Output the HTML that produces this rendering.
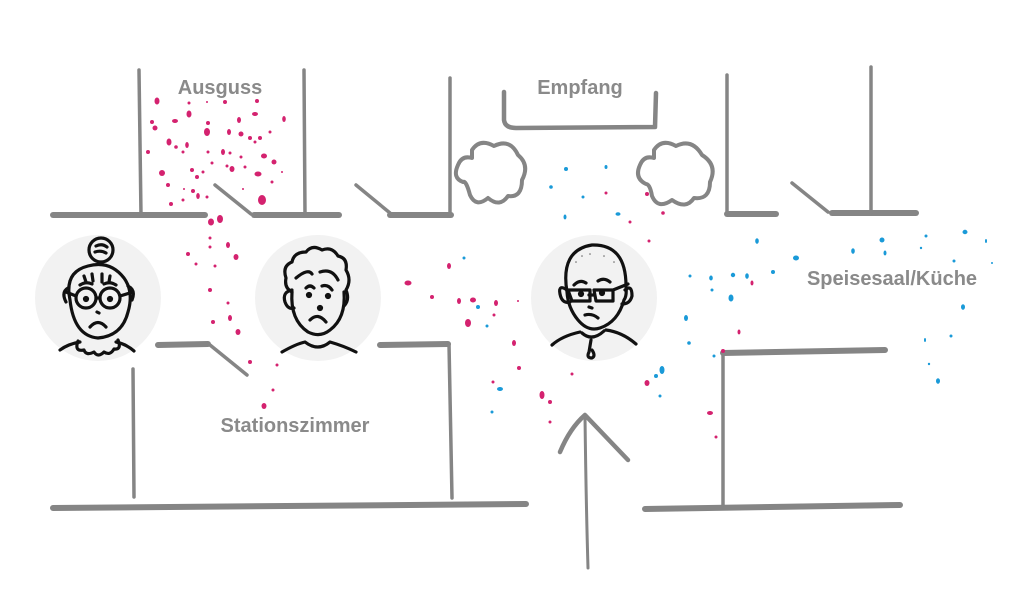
<!DOCTYPE html>
<html><head><meta charset="utf-8"><style>
html,body{margin:0;padding:0;background:#fff;width:1024px;height:603px;overflow:hidden}
svg{display:block}
.w{stroke:#858585;fill:none;stroke-linecap:round;stroke-linejoin:round}
.f{stroke:#111;fill:none;stroke-width:3.2;stroke-linecap:round;stroke-linejoin:round}
text{font-family:"Liberation Sans",sans-serif;font-weight:bold;fill:#8a8a8a;font-size:20px}
.p{fill:#d4226f}.b{fill:#1a9ad8}
</style></head><body>
<svg width="1024" height="603" viewBox="0 0 1024 603">
<circle cx="98" cy="298" r="63" fill="#f2f2f2"/>
<circle cx="318" cy="298" r="63" fill="#f2f2f2"/>
<circle cx="594" cy="298" r="63" fill="#f2f2f2"/>
<g class="w" stroke-width="6">
<path d="M53 215 L205 215"/><path d="M254 215 L339 215"/><path d="M390 215 L451 215"/>
<path d="M727 214 L776 214"/><path d="M832 213 L916 213"/>
<path d="M158 345 L208 344"/><path d="M380 345 L448 344"/>
<path d="M723 353 L885 350"/>
<path d="M53 508 L526 504"/><path d="M645 509 L900 505"/>
</g>
<g class="w" stroke-width="3.5">
<path d="M139 70 L141 215"/><path d="M304 70 L305 215"/><path d="M450 78 L450 215"/>
<path d="M215 185 L251 214"/><path d="M356 185 L390 213"/>
<path d="M727 75 L727 213"/><path d="M871 67 L871 213"/><path d="M792 183 L828 212"/>
<path d="M210 345 L247 375"/>
<path d="M133 369 L134 497"/><path d="M449 344 L452 498"/>
<path d="M723 353 L723 505"/>
<path d="M504 92 L504 120 Q505 128 516 128 L655 127 L656 93" stroke-width="4.5"/>
<path d="M588 568 Q586 500 585 416" stroke-width="3"/>
<path d="M560 452 Q570 428 585 415 L628 460" stroke-width="4.5"/>
</g>
<g class="w" stroke-width="4">
<path d="M472 150 Q480 138 494 146 Q510 138 518 155 Q530 165 522 180 Q522 198 508 196 Q500 208 488 198 Q476 208 470 195 Q466 180 463 182 Q452 178 458 165 Q462 155 472 158 Z"/>
<path d="M654 150 Q662 138 676 146 Q692 138 702 155 Q718 165 710 182 Q710 200 694 198 Q686 210 672 200 Q658 210 652 196 Q650 184 646 184 Q634 178 640 165 Q644 155 654 158 Z"/>
</g>
<text x="220" y="94" text-anchor="middle">Ausguss</text>
<text x="580" y="94" text-anchor="middle">Empfang</text>
<text x="295" y="432" text-anchor="middle">Stationszimmer</text>
<text x="892" y="285" text-anchor="middle">Speisesaal/Küche</text>
<g class="p">
<ellipse cx="157" cy="101" rx="2.5" ry="3.5"/><circle cx="189" cy="103" r="1.5"/><circle cx="207" cy="102" r="1"/><circle cx="225" cy="102" r="2"/><circle cx="257" cy="101" r="2"/>
<ellipse cx="189" cy="114" rx="2.5" ry="3.5"/><ellipse cx="175" cy="121" rx="3" ry="2"/><ellipse cx="239" cy="120" rx="2" ry="3"/><ellipse cx="255" cy="114" rx="3" ry="2"/><ellipse cx="284" cy="119" rx="1.8" ry="3"/>
<circle cx="152" cy="122" r="2"/><circle cx="155" cy="128" r="2.5"/><circle cx="208" cy="123" r="2"/><ellipse cx="207" cy="132" rx="3" ry="4"/><ellipse cx="229" cy="132" rx="2" ry="3"/><circle cx="241" cy="134" r="2.5"/><circle cx="270" cy="132" r="1.5"/>
<ellipse cx="169" cy="142" rx="2.5" ry="3.5"/><circle cx="176" cy="147" r="1.8"/><ellipse cx="187" cy="145" rx="1.8" ry="3"/><circle cx="250" cy="138" r="2"/><circle cx="255" cy="142" r="1.5"/><circle cx="260" cy="138" r="2"/>
<circle cx="148" cy="152" r="2"/><circle cx="183" cy="152" r="1.5"/><circle cx="208" cy="152" r="1.5"/><ellipse cx="223" cy="152" rx="2" ry="3"/><circle cx="230" cy="153" r="1.5"/><circle cx="241" cy="157" r="1.5"/><ellipse cx="264" cy="156" rx="3" ry="2.5"/><circle cx="274" cy="162" r="2.5"/>
<circle cx="162" cy="173" r="3"/><circle cx="192" cy="170" r="2"/><circle cx="197" cy="177" r="2"/><circle cx="203" cy="172" r="1.5"/><circle cx="212" cy="163" r="1.5"/><circle cx="227" cy="166" r="1.5"/><ellipse cx="232" cy="169" rx="2.5" ry="3"/><circle cx="245" cy="167" r="1.5"/><ellipse cx="258" cy="174" rx="3.5" ry="2.5"/><circle cx="282" cy="172" r="1"/><circle cx="272" cy="182" r="1.5"/>
<circle cx="168" cy="185" r="2"/><circle cx="184" cy="189" r="1"/><circle cx="193" cy="191" r="2"/><ellipse cx="198" cy="196" rx="1.8" ry="3"/><circle cx="207" cy="197" r="1.5"/><circle cx="243" cy="189" r="1"/><ellipse cx="262" cy="200" rx="4" ry="5"/><circle cx="171" cy="204" r="2"/><circle cx="183" cy="200" r="1.5"/>
<ellipse cx="211" cy="222" rx="3" ry="3.5"/><ellipse cx="220" cy="219" rx="3" ry="4"/><circle cx="210" cy="238" r="1.5"/><ellipse cx="228" cy="245" rx="2" ry="3"/><circle cx="188" cy="254" r="2"/><circle cx="210" cy="247" r="1.5"/><ellipse cx="236" cy="257" rx="2.5" ry="3"/><circle cx="196" cy="264" r="1.5"/><circle cx="215" cy="266" r="1.5"/>
<circle cx="210" cy="290" r="2"/><circle cx="228" cy="303" r="1.5"/><ellipse cx="230" cy="318" rx="2" ry="3"/><circle cx="213" cy="322" r="2"/><ellipse cx="238" cy="332" rx="2.5" ry="3"/><circle cx="250" cy="362" r="2"/><circle cx="277" cy="365" r="1.5"/><circle cx="273" cy="390" r="1.5"/><ellipse cx="264" cy="406" rx="2.5" ry="3"/>
<ellipse cx="408" cy="283" rx="3.5" ry="2.5"/><ellipse cx="449" cy="266" rx="2" ry="3"/><circle cx="432" cy="297" r="2"/><ellipse cx="459" cy="301" rx="2" ry="3"/><ellipse cx="473" cy="300" rx="3" ry="2.5"/><ellipse cx="496" cy="303" rx="2" ry="3"/><circle cx="494" cy="315" r="1.5"/><ellipse cx="468" cy="323" rx="3" ry="4"/><circle cx="518" cy="301" r="1"/>
<ellipse cx="514" cy="343" rx="2" ry="3"/><circle cx="519" cy="368" r="2"/><circle cx="493" cy="382" r="1.5"/><ellipse cx="542" cy="395" rx="2.5" ry="4"/><circle cx="550" cy="402" r="2"/><circle cx="572" cy="374" r="1.5"/><circle cx="550" cy="422" r="1.5"/><ellipse cx="647" cy="383" rx="2.5" ry="3"/><ellipse cx="710" cy="413" rx="3" ry="2"/><circle cx="716" cy="437" r="1.5"/><ellipse cx="739" cy="332" rx="1.5" ry="2.5"/><circle cx="723" cy="351" r="2"/><ellipse cx="752" cy="283" rx="1.5" ry="2.5"/>
<circle cx="606" cy="193" r="1.5"/><circle cx="647" cy="194" r="2"/><circle cx="663" cy="213" r="1.8"/><circle cx="630" cy="222" r="1.5"/><circle cx="649" cy="241" r="1.5"/>
</g>
<g class="b">
<circle cx="464" cy="258" r="1.5"/><circle cx="478" cy="307" r="2"/><circle cx="487" cy="326" r="1.5"/><ellipse cx="500" cy="389" rx="3" ry="2"/><circle cx="492" cy="412" r="1.5"/>
<circle cx="566" cy="169" r="2"/><ellipse cx="606" cy="167" rx="1.5" ry="2"/><circle cx="551" cy="187" r="1.8"/><circle cx="583" cy="197" r="1.5"/><ellipse cx="565" cy="217" rx="1.5" ry="2.5"/><ellipse cx="618" cy="214" rx="2.5" ry="1.8"/>
<circle cx="660" cy="396" r="1.5"/><ellipse cx="662" cy="370" rx="2.5" ry="4"/><circle cx="656" cy="376" r="2"/><circle cx="689" cy="343" r="1.8"/><ellipse cx="686" cy="318" rx="2" ry="3"/><circle cx="714" cy="356" r="1.5"/><ellipse cx="731" cy="298" rx="2.5" ry="3.5"/><circle cx="712" cy="290" r="1.5"/><ellipse cx="711" cy="278" rx="1.8" ry="2.5"/><circle cx="733" cy="275" r="2.2"/><ellipse cx="747" cy="276" rx="1.8" ry="2.8"/><circle cx="690" cy="276" r="1.5"/>
<ellipse cx="757" cy="241" rx="1.8" ry="2.8"/><circle cx="773" cy="272" r="2"/><ellipse cx="796" cy="258" rx="3" ry="2.5"/><ellipse cx="853" cy="251" rx="1.8" ry="2.8"/><circle cx="882" cy="240" r="2.5"/><ellipse cx="885" cy="253" rx="1.5" ry="2.5"/><circle cx="926" cy="236" r="1.5"/><circle cx="921" cy="248" r="1.2"/><ellipse cx="965" cy="232" rx="2.5" ry="2.2"/><ellipse cx="986" cy="241" rx="1" ry="2"/><circle cx="954" cy="261" r="1.5"/><circle cx="992" cy="263" r="1"/>
<ellipse cx="963" cy="307" rx="2" ry="2.8"/><circle cx="951" cy="336" r="1.5"/><ellipse cx="925" cy="340" rx="1" ry="2"/><circle cx="929" cy="364" r="1.2"/><ellipse cx="938" cy="381" rx="2" ry="2.8"/>
</g>
<g class="f">
<circle cx="101" cy="250" r="12"/>
<path d="M96 246 Q102 243 107 247 M95 252 Q101 250 106 253"/>
<path d="M70 300 Q64 272 88 266 Q110 260 124 278 Q134 292 128 312 Q122 336 98 338 Q74 336 70 300 Z"/>
<circle cx="86" cy="298" r="10"/><circle cx="110" cy="298" r="10"/>
<path d="M96 298 L100 298 M120 296 L133 292 M76 296 L66 292"/>
<path d="M68 288 Q61 292 66 302 M128 286 Q136 290 132 300"/>
<path d="M84 276 L86 282 M92 274 L93 281 M102 274 L102 282 M110 276 L109 282 M80 285 Q86 281 92 284 M104 284 Q110 281 116 285"/>
<circle cx="86" cy="299" r="1.5"/><circle cx="110" cy="299" r="1.5"/>
<path d="M97 312 L99 313"/>
<path d="M90 327 Q98 318 106 327"/>
<path d="M60 350 Q68 344 80 342 M116 342 Q126 344 134 351"/>
<path d="M78 341 Q74 352 84 350 Q86 356 94 352 Q98 358 104 352 Q110 356 114 349 Q122 350 118 340"/>
</g>
<g class="f">
<path d="M292 292 Q290 320 308 332 Q320 338 330 330 Q346 318 344 292"/>
<path d="M292 292 Q284 288 286 278 Q282 266 292 262 Q294 252 306 252 Q312 244 322 250 Q332 246 338 256 Q348 258 346 270 Q352 280 346 290 Q350 300 344 306"/>
<path d="M292 290 Q282 292 285 302 Q288 310 294 308"/>
<path d="M296 278 Q308 268 312 274 M320 272 Q332 268 338 280"/>
<path d="M306 288 Q310 284 314 288 M322 286 Q328 284 332 290"/>
<circle cx="309" cy="295" r="1.5"/><circle cx="328" cy="296" r="1.5"/><circle cx="320" cy="308" r="1.5"/>
<path d="M310 320 Q318 312 326 322"/>
<path d="M282 352 Q296 344 305 342 Q318 352 330 342 Q344 346 356 352"/>
</g>
<g class="f">
<path d="M567 292 Q560 250 592 245 Q626 244 626 286 Q627 296 624 300 Q618 322 600 328 Q588 332 578 320 Q568 308 567 292 Z"/>
<path d="M567 290 Q558 284 560 294 Q562 304 570 302 M625 290 Q632 284 632 296 Q630 304 622 304"/>
<path d="M568 290 L590 290 L590 301 L572 301 Z M594 290 L613 290 L613 301 L596 301 Z M613 290 L628 284 M589 295 L594 295"/>
<path d="M574 285 Q580 279 586 283 M598 281 Q604 277 610 282"/>
<circle cx="581" cy="294" r="1.5"/><circle cx="602" cy="293" r="1.5"/>
<path d="M589 307 L592 308 M585 315 Q592 313 598 318"/>
<path d="M552 345 Q562 336 580 332 M606 330 Q622 332 636 344"/>
<path d="M582 333 Q592 342 604 331 M591 340 L589 352 M589 352 Q586 358 592 358 Q596 356 592 350"/>
</g>
<g fill="#666"><circle cx="576" cy="262" r=".8"/><circle cx="582" cy="256" r=".8"/><circle cx="590" cy="254" r=".8"/><circle cx="604" cy="256" r=".8"/><circle cx="614" cy="262" r=".8"/></g>
</svg>
</body></html>
